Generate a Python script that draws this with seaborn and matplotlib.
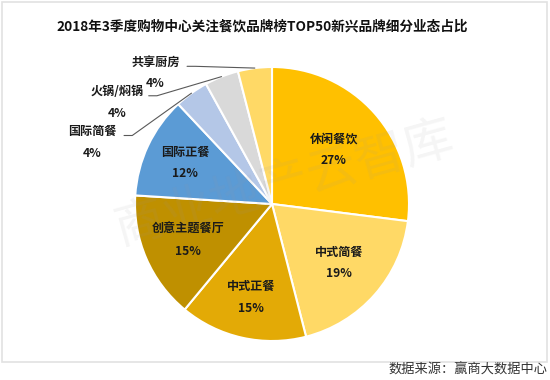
import matplotlib.pyplot as plt
import numpy as np
import seaborn as sns
from matplotlib.patches import Rectangle

# data
categories = ['休闲餐饮', '中式简餐', '中式正餐', '创意主题餐厅', '国际正餐', '国际简餐', '火锅/焖锅', '共享厨房']
shares = [27, 19, 15, 15, 12, 4, 4, 4]
colors = ['#FFC000', '#FFD966', '#E3AA06', '#BF9000', '#5B9BD5', '#B4C7E7', '#D9D9D9', '#FFD966']
title = '2018年3季度购物中心关注餐饮品牌榜TOP50新兴品牌细分业态占比'
source = '数据来源：赢商大数据中心'

sns.set_theme(style='white')
plt.rcParams['font.family'] = ['Noto Sans CJK SC', 'DejaVu Sans']

fig = plt.figure(figsize=(5.5, 3.8), dpi=100)
ax = fig.add_axes([0, 0, 1, 1])

wedges, _ = ax.pie(shares, colors=colors, startangle=90, counterclock=False, radius=1.0,
                   wedgeprops=dict(edgecolor='white', linewidth=1.5))

# 1 data unit = 137 px, pie centre at pixel (272, 204)  (pie() resets limits, so set them after)
R = 137.0
cx, cy = 272.0, 204.0
ax.set_xlim(-cx / R, (550 - cx) / R)
ax.set_ylim(-(380 - cy) / R, cy / R)
ax.set_aspect('equal')
ax.axis('off')

# frame
fig.patches.append(Rectangle((2 / 550, 18 / 380), 545 / 550, 360 / 380, transform=fig.transFigure,
                             fill=False, edgecolor='#E2E2E2', linewidth=1.2, zorder=0))

# watermark
ax.text(0.095, 0.15, '商业地产云智库', fontsize=36, color='#9A9A9A', alpha=0.1, rotation=15.5,
        ha='center', va='center', zorder=5)

inner_dist = [0.6, 0.65, 0.7, 0.67, 0.7]
outer_pos = {5: (-1.31, 0.45), 6: (-1.13, 0.74), 7: (-0.85, 0.955)}

for i, w in enumerate(wedges):
    ang = np.deg2rad((w.theta1 + w.theta2) / 2)
    label = f'{categories[i]}\n{shares[i]}%'
    if i < len(inner_dist):
        d = inner_dist[i]
        ax.text(d * np.cos(ang), d * np.sin(ang), label, ha='center', va='center',
                fontsize=8.7, fontweight='bold', color='#1a1a1a', linespacing=1.85, zorder=6)
    else:
        tx, ty = outer_pos[i]
        ax.text(tx, ty, label, ha='center', va='center', fontsize=8.7, fontweight='bold',
                color='#1a1a1a', linespacing=1.85, zorder=6)
        sx, sy = tx + 0.23, ty + 0.05
        ex, ey = np.cos(ang), np.sin(ang)
        ax.plot([sx, sx + 0.06, ex], [sy, sy, ey], color='#595959', linewidth=0.8, zorder=6)

fig.text(262 / 550, 1 - 27 / 380, title, ha='center', va='center', fontsize=9.8, fontweight='bold', color='#111111')
fig.text(547 / 550, 1 - 370 / 380, source, ha='right', va='center', fontsize=9.5, color='#333333')

fig.savefig('out.png', dpi=100)
